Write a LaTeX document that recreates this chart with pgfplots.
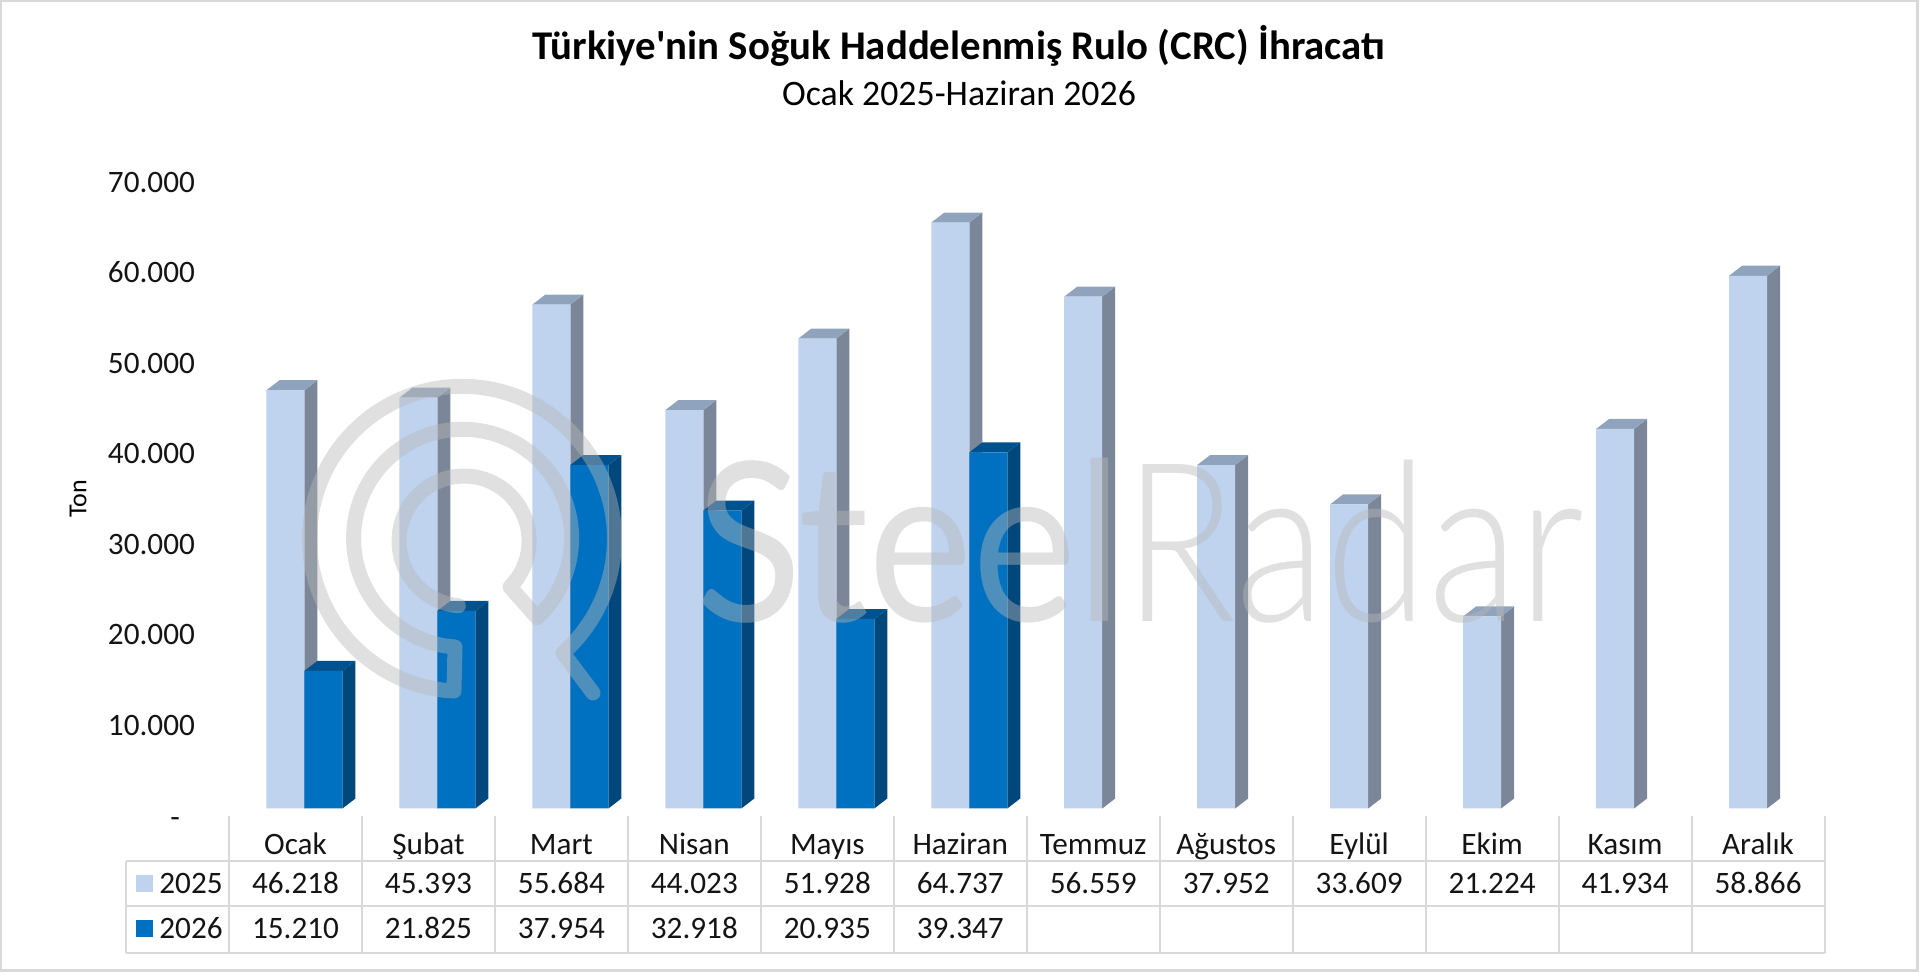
\documentclass[border=0pt]{standalone}
\usepackage{fontspec}
\setmainfont{Carlito}
\newfontfamily\titlef{Carlito}
\newfontfamily\wmreg{Lato}
\newfontfamily\wmlight{Lato Light}
\usepackage{pgfplots}
\usepackage{pgfplotstable}
\pgfplotsset{compat=1.18}

\definecolor{front25}{HTML}{BFD3EE}
\definecolor{side25}{HTML}{7B8798}
\definecolor{top25}{HTML}{8FA3BC}
\definecolor{front26}{HTML}{0070C0}
\definecolor{side26}{HTML}{00477C}
\definecolor{top26}{HTML}{00528F}
\definecolor{gridc}{HTML}{D9D9D9}
\definecolor{wm}{HTML}{B8B8B8}

\pgfplotstableread{
m v
0 46218
1 45393
2 55684
3 44023
4 51928
5 64737
6 56559
7 37952
8 33609
9 21224
10 41934
11 58866
}\tabA
\pgfplotstableread{
m v
0 15210
1 21825
2 37954
3 32918
4 20935
5 39347
}\tabB

% side and top faces of the fake 3d bars, 1 px = 0.5pt, 133 px per month, 1105 = 10 px in y
\newcommand{\faces}[4]{%
  \pgfplotstablegetrowsof{#1}%
  \pgfmathtruncatemacro\last{\pgfplotsretval-1}%
  \pgfplotsforeachungrouped \r in {0,...,\last}{%
    \pgfplotstablegetelem{\r}{m}\of{#1}\let\xc\pgfplotsretval
    \pgfplotstablegetelem{\r}{v}\of{#1}\let\val\pgfplotsretval
    \pgfmathsetmacro\xa{\xc+#2/133}%
    \pgfmathsetmacro\xb{\xa+13/133}%
    \pgfmathsetmacro\xl{\xa-38/133}%
    \pgfmathsetmacro\xm{\xl+13/133}%
    \edef\vt{\the\numexpr\val+1105\relax}%
    \edef\cmd{\noexpand\addplot[fill=#3,draw=none,forget plot] coordinates {(\xa,0) (\xb,1105) (\xb,\vt) (\xa,\val)};
      \noexpand\addplot[fill=#4,draw=none,forget plot] coordinates {(\xl,\val) (\xa,\val) (\xb,\vt) (\xm,\vt)};}%
    \cmd
  }%
}

\begin{document}
\begin{tikzpicture}
\useasboundingbox (0,0) rectangle (960pt,486pt);
\begin{axis}[
  at={(114.5pt,81.75pt)},anchor=south west,
  scale only axis,width=797.75pt,height=316.75pt,
  xmin=-0.5,xmax=11.5,ymin=0,ymax=70000,
  clip=false,
  scaled y ticks=false,
  axis line style={draw=none},
  tick style={draw=none},
  xtick={0,...,11},
  xticklabels={Ocak,Şubat,Mart,Nisan,Mayıs,Haziran,Temmuz,Ağustos,Eylül,Ekim,Kasım,Aralık},
  ytick={0,10000,...,70000},
  yticklabels={\raisebox{-1pt}{-}\rule{7.5pt}{0pt},10.000,20.000,30.000,40.000,50.000,60.000,70.000},
  tick label style={font=\fontsize{15.6}{18}\selectfont,text=black!92},
  xticklabel style={anchor=base,yshift=-23pt},
  yticklabel style={anchor=east,xshift=-13.5pt,yshift=-3.75pt,text height=10pt,text depth=0pt},
  ylabel={Ton},
  ylabel style={at={(rel axis cs:-0.0946,0.489)},anchor=center,font=\fontsize{13}{15}\selectfont},
  title={\titlef\bfseries Türkiye'nin Soğuk Haddelenmiş Rulo (CRC) İhracatı},
  title style={at={(rel axis cs:0.4575,1.1845)},anchor=center,font=\fontsize{20.4}{24}\selectfont},
]
\faces{\tabA}{9}{side25}{top25}
\addplot[ybar,bar width=19pt,bar shift=-5pt,fill=front25,draw=none] table[x=m,y=v] {\tabA};
\faces{\tabB}{47}{side26}{top26}
\addplot[ybar,bar width=19pt,bar shift=14pt,fill=front26,draw=none] table[x=m,y=v] {\tabB};
\end{axis}

% all below in reference pixels, y downwards
\begin{scope}[x=0.5pt,y=-0.5pt,yshift=486pt]
  \draw[gridc,line width=1.25pt] (1,1) rectangle (1917.5,970.5);
  \node[font=\fontsize{17.9}{21}\selectfont] at (959,93) {Ocak 2025-Haziran 2026};

  % table under the plot
  \draw[gridc,line width=1pt] (126,861) -- (1824.5,861) (126,906.5) -- (1824.5,906.5) (126,953) -- (1824.5,953);
  \draw[gridc,line width=1pt] (126,861) -- (126,953);
  \foreach \k in {0,...,12} \draw[gridc,line width=1pt] ({229+132.96*\k},816) -- ({229+132.96*\k},953);
  \fill[front25] (135.5,875) rectangle (152.5,892);
  \fill[front26] (135.5,920.5) rectangle (152.5,937.5);
  \tikzset{cell/.style={anchor=base,inner sep=0pt,font=\fontsize{15.6}{18}\selectfont,text=black!92}}
  \node[cell] at (191,894) {2025};
  \node[cell] at (191,939) {2026};
  \foreach \t [count=\k from 0] in {46.218,45.393,55.684,44.023,51.928,64.737,56.559,37.952,33.609,21.224,41.934,58.866}
    \node[cell] at ({295.5+132.96*\k},894) {\t};
  \foreach \t [count=\k from 0] in {15.210,21.825,37.954,32.918,20.935,39.347}
    \node[cell] at ({295.5+132.96*\k},939) {\t};

  % watermark
  \draw[wm,draw opacity=0.43,line width=7.5pt,line cap=round,line join=round]
    (593,693) -- (563,653) arc[start angle=48.5,end angle=-267,radius=152.5]
    -- (455,647) arc[start angle=94,end angle=406.8,radius=109]
    -- (510,587) arc[start angle=45,end angle=-265,radius=65];
  \node[inner sep=0pt,anchor=base west,text=wm,text opacity=0.43,font=\wmreg\fontsize{111}{111}\selectfont,xscale=0.889] at (695,622) {Steel};
  \node[inner sep=0pt,anchor=base west,text=wm,text opacity=0.43,font=\wmlight\fontsize{111}{111}\selectfont,xscale=0.841] at (1123,622) {Radar};
\end{scope}
\end{tikzpicture}
\end{document}
